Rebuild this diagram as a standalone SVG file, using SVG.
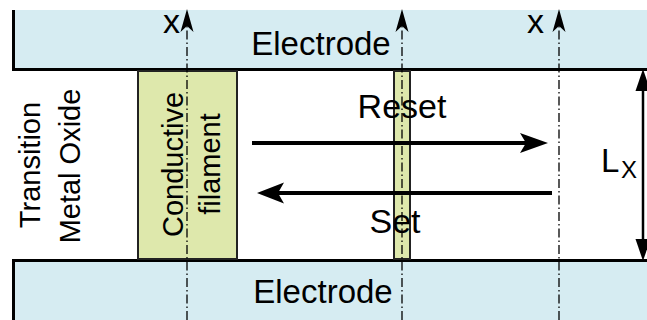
<svg xmlns="http://www.w3.org/2000/svg" width="647" height="320" viewBox="0 0 647 320">
<style>
.el{fill:#d6ecf2;}
.edge{stroke:#000;stroke-width:3;fill:none;}
.fil{fill:#dee8ac;stroke:#222;stroke-width:2;}
.t{font-family:"Liberation Sans",Arial,sans-serif;fill:#000;}
.dd{stroke:#000;stroke-width:1.3;stroke-dasharray:9 3 1.5 3;fill:none;}
.arr{stroke:#000;stroke-width:4;fill:none;}
.hd{fill:#000;}
</style>
<g id="top-electrode">
<rect class="el" x="12" y="10" width="640" height="60"/>
<path class="edge" d="M13.5,10 V69.5 H647"/>
<text class="t" x="321" y="55" font-size="33" text-anchor="middle">Electrode</text>
</g>
<g id="bottom-electrode">
<rect class="el" x="12" y="260" width="640" height="62"/>
<path class="edge" d="M13.5,320 V260.5 H647"/>
<text class="t" x="323" y="303" font-size="33" text-anchor="middle">Electrode</text>
</g>
<g id="oxide">
<text class="t" font-size="29" text-anchor="middle" transform="translate(40,165) rotate(-90)">Transition</text>
<text class="t" font-size="29" text-anchor="middle" transform="translate(80,166) rotate(-90)">Metal Oxide</text>
</g>
<g id="filament">
<rect class="fil" x="138" y="71" width="99" height="188"/>
<text class="t" font-size="29" text-anchor="middle" transform="translate(183,164.5) rotate(-90)">Conductive</text>
<text class="t" font-size="29" text-anchor="middle" transform="translate(220,164) rotate(-90)">filament</text>
</g>
<g id="thin-filament">
<rect class="fil" x="394" y="71" width="16" height="188" stroke-width="1"/>
</g>
<g id="labels">
<text class="t" x="163" y="33" font-size="34">x</text>
<text class="t" x="527" y="33" font-size="34">x</text>
<text class="t" x="402" y="118" font-size="34" text-anchor="middle">Reset</text>
<text class="t" x="395" y="233" font-size="34" text-anchor="middle">Set</text>
<text class="t" x="601" y="172" font-size="33">L</text>
<text class="t" x="621" y="178" font-size="24">X</text>
</g>
<g id="connectors">
<path class="dd" d="M187,320 V20"/>
<path class="hd" d="M187,9 L193.5,32 L187,26 L180.5,32 Z"/>
<path class="dd" d="M402,320 V20"/>
<path class="hd" d="M402,9 L408.5,32 L402,26 L395.5,32 Z"/>
<path class="dd" d="M559,320 V20"/>
<path class="hd" d="M559,9 L565.5,32 L559,26 L552.5,32 Z"/>
<path class="arr" d="M252,143 H530"/>
<path class="hd" d="M548,143 L520,133 L526,143 L520,153 Z"/>
<path class="arr" d="M552,193 H275"/>
<path class="hd" d="M257,193 L284,182.5 L278,193 L284,203.5 Z"/>
<path d="M643,80 V250" stroke="#000" stroke-width="2.5"/>
<path class="hd" d="M643,69 L650.5,91 L635.5,91 Z"/>
<path class="hd" d="M643,261 L650.5,239 L635.5,239 Z"/>
</g>
</svg>
